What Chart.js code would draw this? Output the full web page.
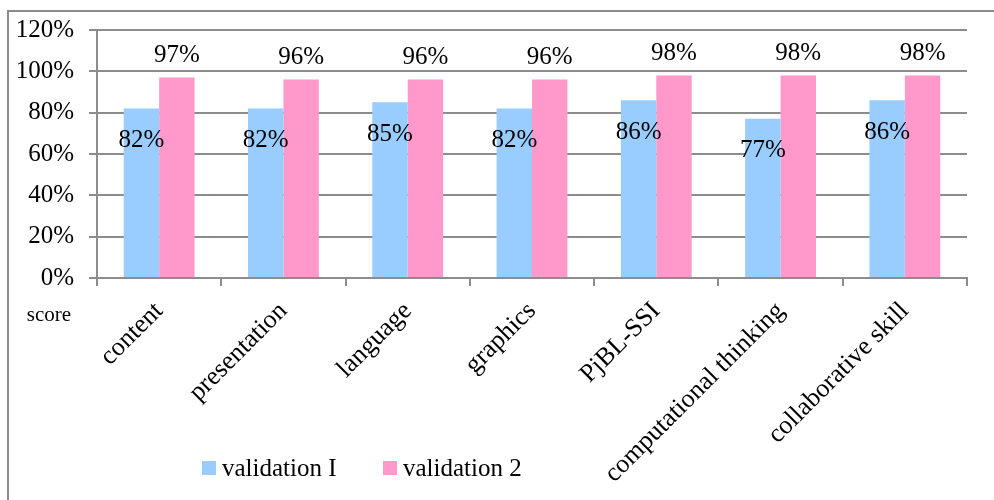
<!DOCTYPE html>
<html>
<head>
<meta charset="utf-8">
<script src="https://cdn.jsdelivr.net/npm/chart.js@4/dist/chart.umd.min.js"></script>
<style>
  html, body { margin: 0; padding: 0; background: #fff; }
  #wrap { width: 994px; height: 500px; position: relative; }
</style>
</head>
<body>
<div id="wrap"><canvas id="c" width="994" height="500"></canvas></div>
<script>
// Assessment criteria on the category axis
const categories = ['content', 'presentation', 'language', 'graphics', 'PjBL-SSI', 'computational thinking', 'collaborative skill'];
// Scores (%) per validation round
const validation1 = [82, 82, 85, 82, 86, 77, 86];
const validation2 = [97, 96, 96, 96, 98, 98, 98];
const seriesNames = ['validation I', 'validation 2'];
// Y axis ticks (%)
const yTicks = [0, 20, 40, 60, 80, 100, 120];

const SERIF = '"Liberation Serif", "Times New Roman", serif';
const GRID = '#8c8c8c';
const BLUE = '#99CCFF';
const PINK = '#FF99CC';

// Value labels: first series inside the bar, second above it
const valueLabels = {
  id: 'valueLabels',
  afterDatasetsDraw(chart) {
    const ctx = chart.ctx;
    ctx.save();
    ctx.font = '25px ' + SERIF;
    ctx.fillStyle = '#000';
    ctx.textAlign = 'center';
    ctx.textBaseline = 'middle';
    chart.data.datasets.forEach((ds, di) => {
      const meta = chart.getDatasetMeta(di);
      meta.data.forEach((bar, i) => {
        const y = di === 0 ? bar.y + 32 : bar.y - 22;
        ctx.fillText(ds.data[i] + '%', bar.x, y);
      });
    });
    ctx.restore();
  }
};

// Outer frame, the "score" caption and the legend
const decorations = {
  id: 'decorations',
  beforeDraw(chart) {
    const ctx = chart.ctx;
    ctx.save();
    ctx.strokeStyle = GRID;
    ctx.lineWidth = 2;
    ctx.strokeRect(8, 11, 1000, 520);
    ctx.restore();
  },
  afterDraw(chart) {
    const ctx = chart.ctx;
    const area = chart.chartArea;
    ctx.save();
    ctx.fillStyle = '#000';
    ctx.font = '21px ' + SERIF;
    ctx.textAlign = 'center';
    ctx.textBaseline = 'middle';
    ctx.fillText('score', area.left - 48, area.bottom + 37);

    // legend
    ctx.font = '25px ' + SERIF;
    ctx.textAlign = 'left';
    ctx.textBaseline = 'middle';
    const ly = 468;
    const starts = [202, 383];
    chart.data.datasets.forEach((ds, i) => {
      const x = starts[i];
      ctx.fillStyle = ds.backgroundColor;
      ctx.fillRect(x, ly - 7, 14, 14);
      ctx.fillStyle = '#000';
      ctx.fillText(ds.label, x + 20, ly + 1);
    });
    ctx.restore();
  }
};

new Chart(document.getElementById('c'), {
  type: 'bar',
  data: {
    labels: categories,
    datasets: [
      { label: seriesNames[0], data: validation1, backgroundColor: BLUE },
      { label: seriesNames[1], data: validation2, backgroundColor: PINK }
    ]
  },
  options: {
    responsive: false,
    animation: false,
    events: [],
    layout: { padding: { left: 0, right: 27, top: 29, bottom: 0 } },
    plugins: { legend: { display: false }, tooltip: { enabled: false } },
    datasets: { bar: { categoryPercentage: 0.57, barPercentage: 1.0 } },
    scales: {
      x: {
        grid: {
          offset: true,
          drawOnChartArea: false,
          drawTicks: true,
          tickLength: 8,
          color: GRID,
          lineWidth: 2
        },
        border: { color: GRID, width: 2 },
        ticks: {
          minRotation: 45,
          maxRotation: 45,
          padding: 10,
          color: '#000',
          font: { family: SERIF, size: 26 }
        },
        afterFit(scale) { scale.height = 222; }
      },
      y: {
        min: 0,
        max: 120,
        afterBuildTicks(scale) { scale.ticks = yTicks.map(v => ({ value: v })); },
        grid: { color: GRID, lineWidth: 2, tickLength: 8 },
        border: { color: GRID, width: 2 },
        ticks: {
          padding: 15,
          color: '#000',
          font: { family: SERIF, size: 25 },
          callback: v => v + '%'
        },
        afterFit(scale) { scale.width = 97; }
      }
    }
  },
  plugins: [valueLabels, decorations]
});
</script>
</body>
</html>
